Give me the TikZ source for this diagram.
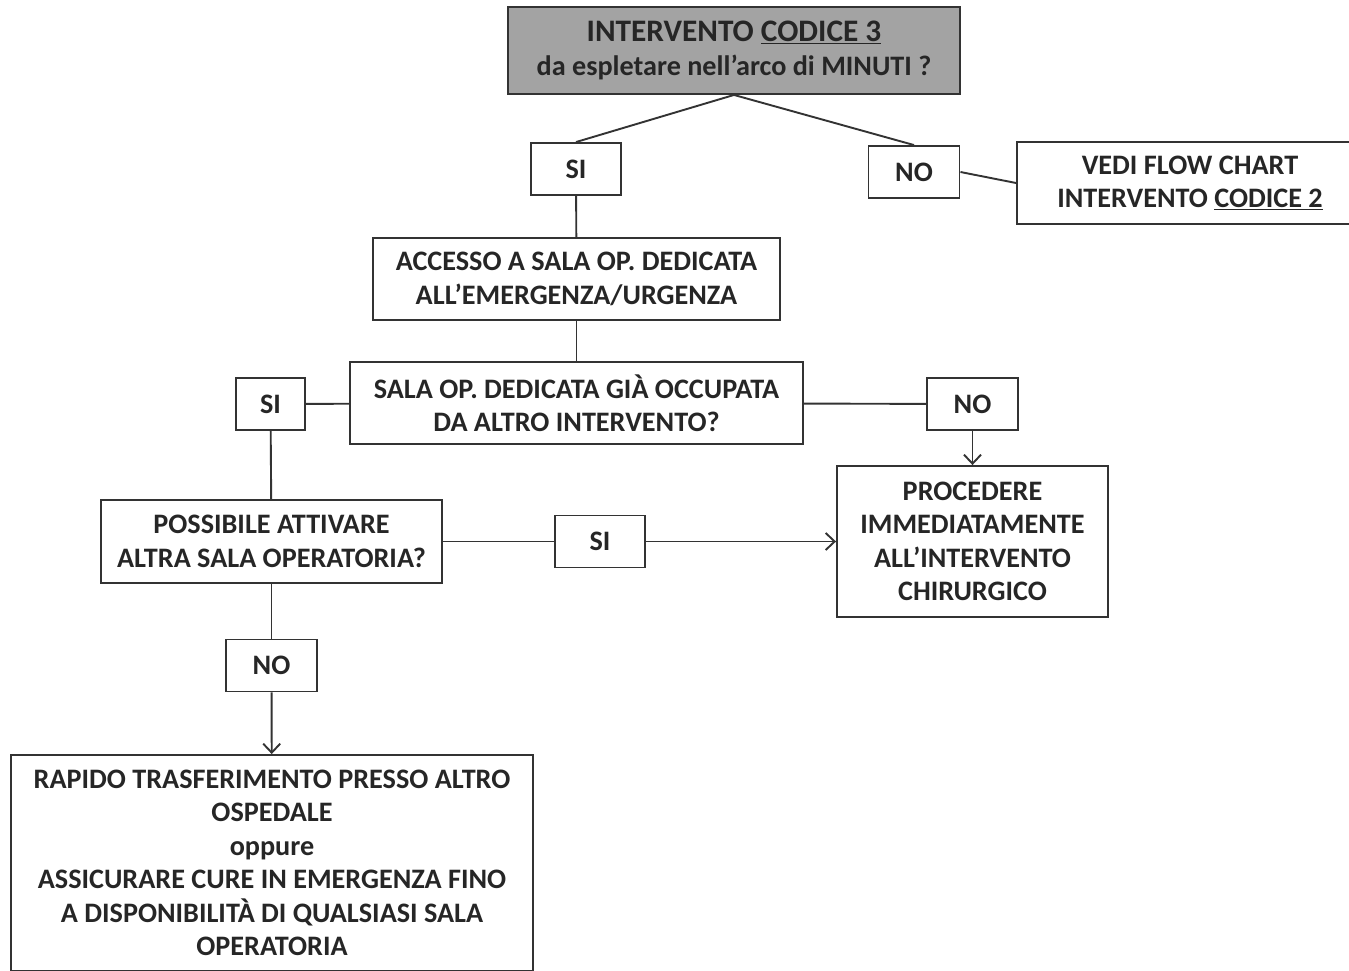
\documentclass[tikz,border=0pt]{standalone}
\usepackage{fontspec}
\setmainfont{Carlito}
\usetikzlibrary{
	arrows.meta,
	positioning
}
\definecolor{linegray}{HTML}{333333}
\definecolor{headgray}{HTML}{A3A3A3}

\begin{document}
\begin{tikzpicture}[
		x=1pt, y=-1pt,
		box/.style={draw=linegray, line width=1.9pt, align=center, inner sep=2pt,
			font=\fontsize{28.2}{33.5}\selectfont\bfseries, text=black!85},
		answer/.style={box, minimum width=90, minimum height=52},
		headbox/.style={box, fill=headgray},
		line/.style={draw=linegray, line width=1.9pt},
		arrow/.style={line, -{Straight Barb[length=9pt, width=17pt, line width=1.9pt]}}
		]
		\useasboundingbox (0,0) rectangle (1349,970);
		
		% Nodes
		\node[headbox, minimum width=452, minimum height=87] (codice3) at (734,50.5) {
			{\fontsize{31.3}{38}\selectfont INTERVENTO \underline{CODICE 3}}\\
			da espletare nell’arco di MINUTI ?
		};
		
		\node[answer] (si1) at (576,169) {SI};
		\node[answer, minimum width=91] (no1) at (914,172) {NO};
		
		\node[box, minimum width=346, minimum height=82] (vedi) at (1190,183) {
			VEDI FLOW CHART\\
			INTERVENTO \underline{CODICE 2}
		};
		
		\node[box, minimum width=407, minimum height=82] (accesso) at (576.5,279) {
			ACCESSO A SALA OP. DEDICATA\\
			ALL’EMERGENZA/URGENZA
		};
		
		\node[box, minimum width=453, minimum height=82] (occupata) at (576.5,403) {
			SALA OP. DEDICATA GIÀ OCCUPATA\\
			DA ALTRO INTERVENTO?
		};
		
		\node[answer, minimum width=69] (si2) at (270.5,404) {SI};
		\node[answer, minimum width=91] (no2) at (972.5,404) {NO};
		
		\node[box, minimum width=271, minimum height=151] (procedere) at (972.5,541.5) {
			PROCEDERE\\
			IMMEDIATAMENTE\\
			ALL’INTERVENTO\\
			CHIRURGICO
		};
		
		\node[box, minimum width=341, minimum height=83] (attivare) at (271.5,541.5) {
			POSSIBILE ATTIVARE\\
			ALTRA SALA OPERATORIA?
		};
		
		\node[answer] (si3) at (600,541.5) {SI};
		\node[answer, minimum width=91] (no3) at (271.5,665.5) {NO};
		
		\node[box, minimum width=522, minimum height=216] (rapido) at (272,863) {
			RAPIDO TRASFERIMENTO PRESSO ALTRO\\
			OSPEDALE\\
			oppure\\
			ASSICURARE CURE IN EMERGENZA FINO\\
			A DISPONIBILITÀ DI QUALSIASI SALA\\
			OPERATORIA
		};
		
		% Connectors
		\draw[line] (codice3.south) -- (si1.north);
		\draw[line] (codice3.south) -- (no1.north);
		\draw[line] (no1.east) -- (vedi.west);
		\draw[line] (si1) -- (accesso);
		\draw[line] (accesso) -- (occupata);
		\draw[line] (occupata) -- (si2);
		\draw[line] (occupata) -- (no2);
		\draw[arrow] (no2) -- (procedere);
		\draw[line] (si2) -- (attivare);
		\draw[line] (attivare) -- (si3);
		\draw[arrow] (si3) -- (procedere);
		\draw[line] (attivare) -- (no3);
		\draw[arrow] (no3) -- (rapido);
		
	\end{tikzpicture}
\end{document}
